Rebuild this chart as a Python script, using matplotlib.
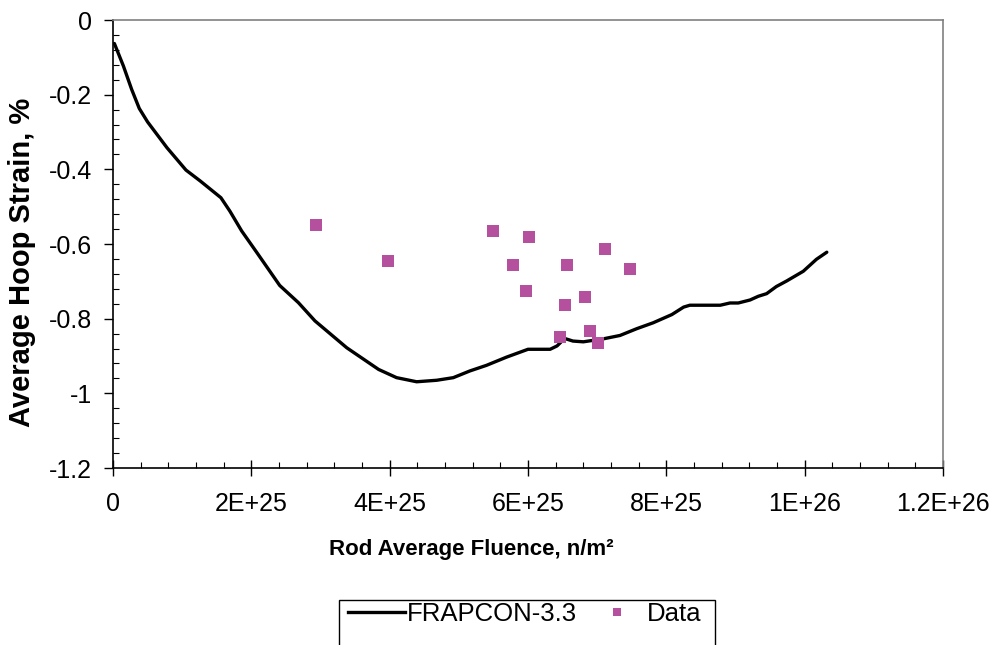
import matplotlib
matplotlib.use("Agg")
import matplotlib.pyplot as plt
from matplotlib.patches import Rectangle
from matplotlib.ticker import MultipleLocator, FuncFormatter
from matplotlib.lines import Line2D

plt.rcParams['font.family'] = ['Liberation Sans', 'DejaVu Sans']

# FRAPCON-3.3 prediction (fluence in units of 1E+25 n/m2, hoop strain in %)
frap_fluence = [0.02, 0.15, 0.27, 0.38, 0.50, 0.78, 1.055, 1.26, 1.56, 1.69, 1.86,
                2.08, 2.41, 2.68, 2.92, 3.38, 3.84, 4.10, 4.39, 4.68, 4.92, 5.16,
                5.40, 5.69, 6.00, 6.32, 6.42, 6.53, 6.65, 6.80, 7.09, 7.33, 7.57,
                7.81, 8.08, 8.25, 8.34, 8.78, 8.92, 9.04, 9.21, 9.33, 9.45, 9.59,
                9.74, 9.98, 10.17, 10.32]
frap_strain = [-0.063, -0.123, -0.186, -0.237, -0.273, -0.342, -0.402, -0.431, -0.476,
               -0.512, -0.565, -0.623, -0.711, -0.757, -0.806, -0.878, -0.936, -0.958,
               -0.969, -0.965, -0.958, -0.940, -0.925, -0.903, -0.882, -0.882, -0.873,
               -0.853, -0.860, -0.862, -0.854, -0.845, -0.827, -0.811, -0.789, -0.769,
               -0.764, -0.764, -0.758, -0.758, -0.750, -0.740, -0.733, -0.714, -0.699,
               -0.673, -0.641, -0.622]

# Measured data
data_fluence = [2.93, 3.97, 5.50, 6.02, 7.12, 5.79, 6.57, 7.47, 5.97, 6.83, 6.54,
                6.89, 6.46, 7.01]
data_strain = [-0.549, -0.646, -0.566, -0.582, -0.614, -0.657, -0.657, -0.668,
               -0.727, -0.743, -0.764, -0.834, -0.850, -0.866]

scale = 1e25
purple = '#B5509F'

fig = plt.figure(figsize=(9.95, 6.45), dpi=100)
ax = fig.add_axes([113 / 995, 1 - 468 / 645, 830 / 995, 448 / 645])

ax.plot([f * scale for f in frap_fluence], frap_strain, color='black', lw=2.4,
        solid_capstyle='round', solid_joinstyle='round', zorder=3)
ax.plot([f * scale for f in data_fluence], data_strain, linestyle='none', marker='s',
        markersize=8.6, color=purple, markeredgewidth=0, zorder=4)

ax.set_xlim(0, 1.2e26)
ax.set_ylim(-1.2, 0)
ax.xaxis.set_major_locator(MultipleLocator(2e25))
ax.xaxis.set_minor_locator(MultipleLocator(4e24))
ax.yaxis.set_major_locator(MultipleLocator(0.2))
ax.yaxis.set_minor_locator(MultipleLocator(0.04))


def xfmt(v, pos):
    if abs(v) < 1:
        return '0'
    s = '%.1E' % v
    mant, exp = s.split('E')
    mant = mant.rstrip('0').rstrip('.')
    return '%sE+%d' % (mant, int(exp))


def yfmt(v, pos):
    return '%g' % round(v, 2)


ax.xaxis.set_major_formatter(FuncFormatter(xfmt))
ax.yaxis.set_major_formatter(FuncFormatter(yfmt))

ax.tick_params(axis='x', which='major', direction='inout', length=11, width=1,
               labelsize=18, pad=12)
ax.tick_params(axis='x', which='minor', direction='in', length=4.3, width=0.8)
ax.tick_params(axis='y', which='major', direction='out', length=6.5, width=1,
               labelsize=18, pad=8.6)
ax.tick_params(axis='y', which='minor', direction='in', length=4.3, width=0.8)

for side in ['top', 'right']:
    ax.spines[side].set_color('#808080')
    ax.spines[side].set_linewidth(1.2)
for side in ['left', 'bottom']:
    ax.spines[side].set_color('black')
    ax.spines[side].set_linewidth(1.2)

fig.text(471 / 995, 1 - 550 / 645, 'Rod Average Fluence, n/m\u00b2', ha='center',
         va='center', fontsize=16, fontweight='bold')
fig.text(22 / 995, 1 - 262 / 645, 'Average Hoop Strain, %', ha='center', va='center',
         rotation=90, fontsize=21, fontweight='bold')

# legend box running past the bottom edge
fig.patches.append(Rectangle((339 / 995, -0.05), (715 - 339) / 995, 0.05 + 45 / 645,
                             transform=fig.transFigure, fill=False, edgecolor='black',
                             lw=1, clip_on=False))
handles = [Line2D([], [], color='black', lw=2.4),
           Line2D([], [], linestyle='none', marker='s', markersize=5.5, color=purple,
                  markeredgewidth=0)]
fig.legend(handles, ['FRAPCON-3.3', 'Data'], loc='center left',
           bbox_to_anchor=(343 / 995, 1 - 614 / 645), ncol=2, frameon=False,
           fontsize=18.5, handlelength=2.2, handletextpad=0.08, columnspacing=0.45,
           borderpad=0.2, borderaxespad=0)

fig.savefig('out.png', dpi=100)
